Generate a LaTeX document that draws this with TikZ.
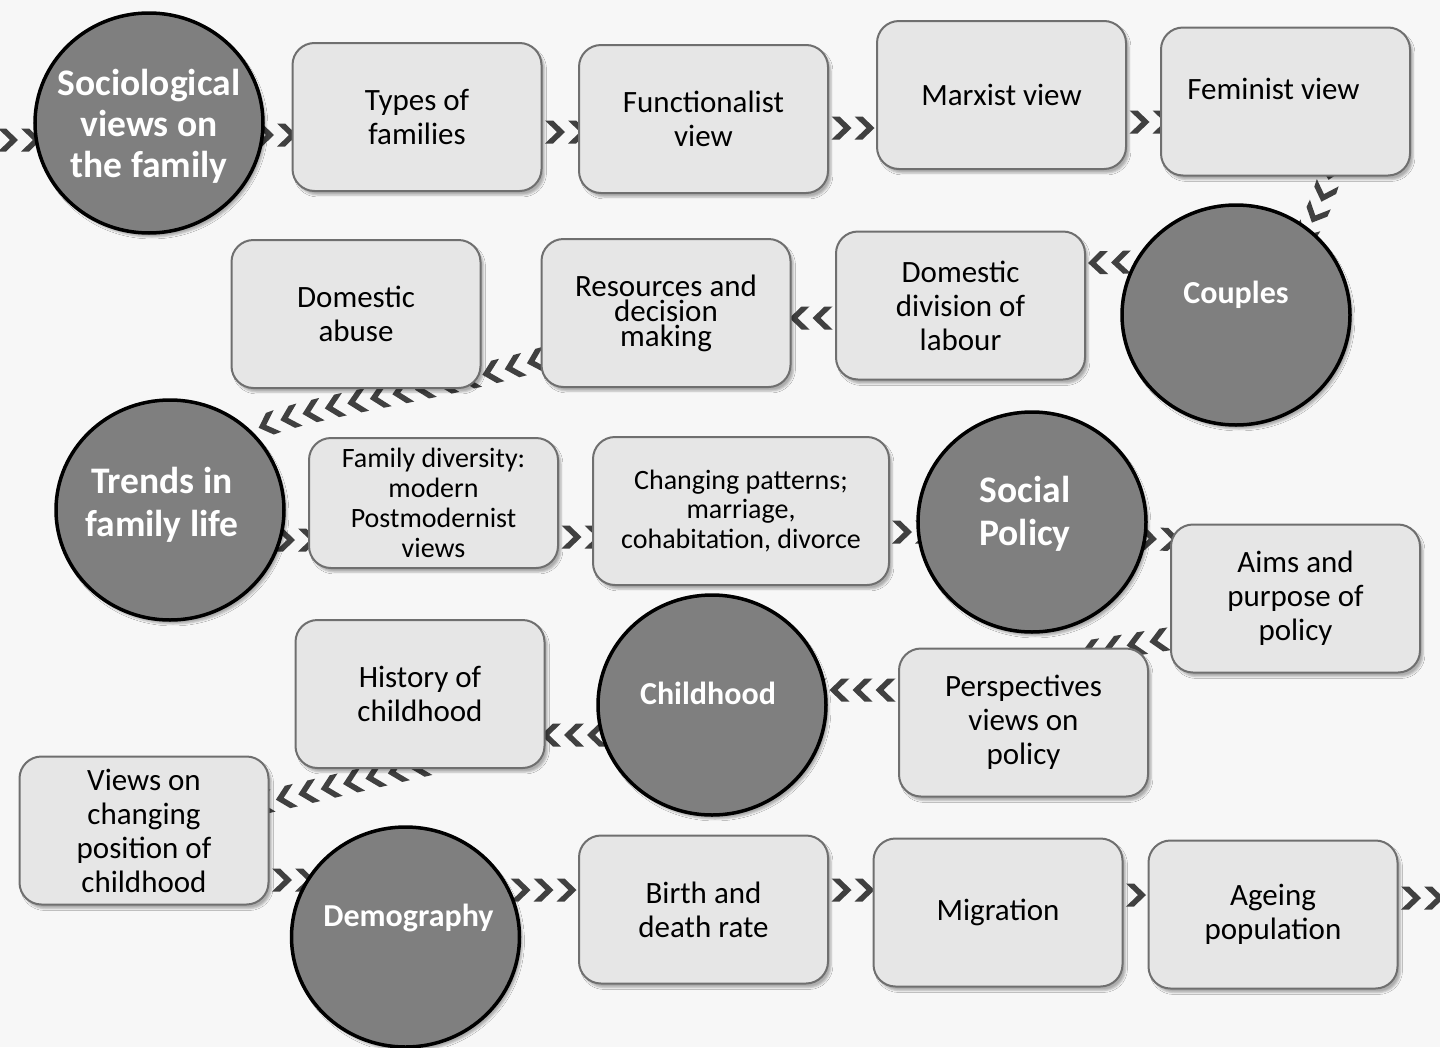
\documentclass[tikz,border=0pt]{standalone}
\usepackage{fontspec}
\setmainfont{Carlito}
\usetikzlibrary{shapes.geometric,decorations.markings,shadows.blur,backgrounds}

\definecolor{boxfill}{HTML}{E6E6E6}
\definecolor{boxline}{HTML}{6F6F6F}
\definecolor{hubfill}{HTML}{7F7F7F}
\definecolor{chevcol}{HTML}{404040}
\definecolor{paper}{HTML}{F7F7F7}

\begin{document}
\begin{tikzpicture}[x=1pt,y=-1pt,
	box/.style={draw=boxline, line width=2pt, fill=boxfill, rounded corners=22pt,
		minimum width=249pt, minimum height=148pt, inner sep=2pt, align=center,
		font=\fontsize{31}{34}\selectfont,
		blur shadow={shadow xshift=3pt, shadow yshift=-4pt, shadow opacity=30}},
	hub/.style={ellipse, draw=black, line width=3.5pt, fill=hubfill,
		minimum width=228pt, minimum height=220pt, inner sep=0pt,
		blur shadow={shadow xshift=3pt, shadow yshift=-4pt, shadow opacity=30}},
	hubtext/.style={text=white, align=center, font=\bfseries\fontsize{32}{35}\selectfont},
	bigtext/.style={text=white, align=center, font=\bfseries\fontsize{37.5}{43}\selectfont},
	chev/.style={decorate, decoration={markings,
		mark=between positions 0 and 1 step 23pt with
		{\fill[chevcol] (-10,-11.5) -- (-2,-11.5) -- (10,0) -- (-2,11.5) -- (-10,11.5) -- (2,0) -- cycle;}}}
	]
	
	\useasboundingbox (0,0) rectangle (1440,1047);
	
	% row 1
	\node[hub, label={[bigtext, font=\bfseries\fontsize{37.5}{41}\selectfont, yshift=-3pt]center:Sociological\\views on\\the family}] (socio) at (149,123) {};
	\node[box] (types) at (417,117) {Types of\\families};
	\node[box] (func) at (703.5,119) {Functionalist\\view};
	\node[box] (marxist) at (1001.5,95) {Marxist view};
	\node[box, label={[font=\fontsize{31}{34}\selectfont, xshift=-12pt, yshift=13pt]center:Feminist view}] (feminist) at (1285.5,101.5) {};
	
	% row 2
	\node[hub, label={[hubtext, yshift=20pt]center:Couples}] (couples) at (1236,315) {};
	\node[box] (domdiv) at (960.5,305.5) {Domestic\\division of\\labour};
	\node[box, font=\fontsize{31}{25}\selectfont] (resources) at (666,313) {Resources and\\decision\\making};
	\node[box] (abuse) at (356,314) {Domestic\\abuse};
	
	% row 3
	\node[hub, label={[bigtext, xshift=-8pt, yshift=5pt]center:Trends in\\family life}] (trends) at (170,510) {};
	\node[box, minimum height=130pt, font=\fontsize{28}{30}\selectfont] (famdiv) at (433.5,503) {Family diversity:\\modern\\Postmodernist\\views};
	\node[box, minimum width=296pt, font=\fontsize{28}{29.5}\selectfont] (changing) at (741,511) {Changing patterns;\\marriage,\\cohabitation, divorce};
	\node[hub, label={[bigtext, xshift=-7pt, yshift=8pt]center:Social\\Policy}] (social) at (1032,522) {};
	\node[box] (aims) at (1295.5,598.5) {Aims and\\purpose of\\policy};
	
	% row 4
	\node[box] (persp) at (1023.5,722.5) {Perspectives\\views on\\policy};
	\node[hub, label={[hubtext, xshift=-4pt, yshift=12pt]center:Childhood}] (childhood) at (712,705) {};
	\node[box] (history) at (420,694) {History of\\childhood};
	\node[box] (views) at (144,830.5) {Views on\\changing\\position of\\childhood};
	
	% row 5
	\node[hub, label={[hubtext, xshift=3pt, yshift=19pt]center:Demography}] (demo) at (405.5,937) {};
	\node[box] (birth) at (703.5,909.5) {Birth and\\death rate};
	\node[box] (migration) at (998,912.5) {Migration};
	\node[box] (ageing) at (1273,914.5) {Ageing\\population};
	
	\coordinate (entry) at (-15,140);
	\coordinate (exit) at (1470,898);
	
	\begin{pgfonlayer}{background}
		\fill[paper] (0,0) rectangle (1440,1047);
		
		% chevron links
		\path[chev] (entry) -- ([yshift=-17pt]socio.center);
		\path[chev] ([yshift=-12pt]socio.center) -- ([yshift=-18pt]types.center);
		\path[chev] ([yshift=-15pt]types.center) -- ([yshift=-13pt]func.center);
		\path[chev] ([yshift=-9pt]func.center) -- ([yshift=-33pt]marxist.center);
		\path[chev] ([yshift=-27pt]marxist.center) -- ([yshift=-20.5pt]feminist.center);
		\path[chev] ([xshift=52pt]feminist.center) .. controls +(0,110) and +(60,-60) .. (couples.center);
		\path[chev] ([yshift=55pt]couples.center) -- ([yshift=40pt]domdiv.center);
		\path[chev] ([yshift=-12.5pt]domdiv.center) -- ([yshift=-5pt]resources.center);
		\path[chev] (resources.center) .. controls (500,390) and (330,395) .. (trends.north east);
		\path[chev] ([yshift=-30pt]trends.center) -- ([yshift=-37pt]famdiv.center);
		\path[chev] ([yshift=-34pt]famdiv.center) -- ([yshift=-26pt]changing.center);
		\path[chev] ([yshift=-21pt]changing.center) -- ([yshift=-10pt]social.center);
		\path[chev] ([yshift=-13pt]social.center) -- ([yshift=55pt]aims.center);
		\path[chev] ([yshift=-20pt]aims.center) -- ([xshift=60pt,yshift=-5pt]persp.north);
		\path[chev] ([yshift=32.5pt]persp.center) -- ([yshift=15pt]childhood.center);
		\path[chev] ([yshift=-30pt]childhood.center) -- ([yshift=-41pt]history.center);
		\path[chev] ([yshift=-72pt]history.center) -- (views.center);
		\path[chev] ([yshift=-49.5pt]views.center) -- ([yshift=57pt]demo.center);
		\path[chev] ([yshift=47pt]demo.center) -- ([yshift=19.5pt]birth.center);
		\path[chev] ([yshift=19.5pt]birth.center) -- ([yshift=22.5pt]migration.center);
		\path[chev] ([yshift=17.5pt]migration.center) -- ([yshift=19.5pt]ageing.center);
		\path[chev] ([yshift=16.5pt]ageing.center) -- (exit);
	\end{pgfonlayer}
	
\end{tikzpicture}
\end{document}
